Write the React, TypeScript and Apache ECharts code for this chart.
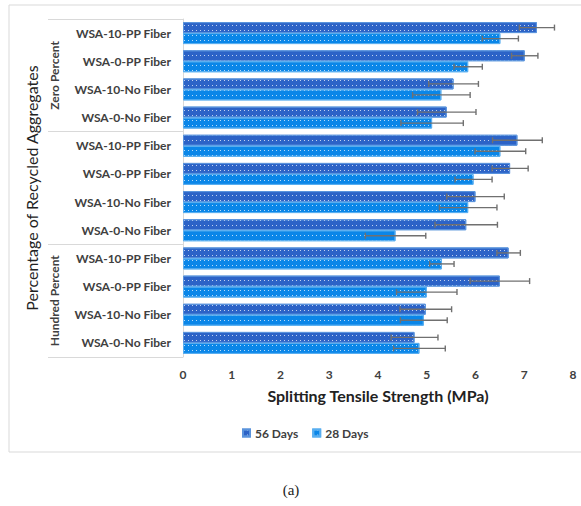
import React, { useEffect, useRef } from 'react';
import * as echarts from 'echarts';

const categories = [
  'WSA-10-PP Fiber', 'WSA-0-PP Fiber', 'WSA-10-No Fiber', 'WSA-0-No Fiber',
  'WSA-10-PP Fiber', 'WSA-0-PP Fiber', 'WSA-10-No Fiber', 'WSA-0-No Fiber',
  'WSA-10-PP Fiber', 'WSA-0-PP Fiber', 'WSA-10-No Fiber', 'WSA-0-No Fiber',
];
const groups = ['Zero Percent', 'Fifty Percent', 'Hundred Percent'];

const days56 = [7.26, 7.01, 5.55, 5.41, 6.86, 6.71, 6.0, 5.81, 6.68, 6.5, 4.98, 4.75];
const days28 = [6.51, 5.85, 5.3, 5.11, 6.51, 5.96, 5.85, 4.36, 5.31, 5.0, 4.94, 4.85];
const err56 = [0.36, 0.27, 0.51, 0.6, 0.51, 0.37, 0.59, 0.64, 0.24, 0.61, 0.53, 0.48];
const err28 = [0.37, 0.29, 0.59, 0.64, 0.52, 0.38, 0.59, 0.62, 0.25, 0.62, 0.48, 0.53];

const xTicks = { min: 0, max: 8, interval: 1 };

const FONT = 'Lato';
const BAR_H = 11;

const errorSeries = (name: string, values: number[], errs: number[], shift: number) => ({
  type: 'custom',
  name,
  z: 5,
  silent: true,
  encode: { x: 0, y: 1 },
  data: values.map((v, i) => [v, i, errs[i]]),
  renderItem: (params: any, api: any) => {
    const v = api.value(0);
    const idx = api.value(1);
    const e = api.value(2);
    const a = api.coord([v - e, idx]);
    const b = api.coord([v + e, idx]);
    const y = a[1] + shift;
    const style = { stroke: '#707070', lineWidth: 1.4 };
    return {
      type: 'group',
      children: [
        { type: 'line', shape: { x1: a[0], y1: y, x2: b[0], y2: y }, style },
        { type: 'line', shape: { x1: a[0], y1: y - 3, x2: a[0], y2: y + 3 }, style },
        { type: 'line', shape: { x1: b[0], y1: y - 3, x2: b[0], y2: y + 3 }, style },
      ],
    };
  },
});

const decal = {
  symbol: 'rect',
  symbolSize: 1,
  color: 'rgba(255,255,255,0.7)',
  dashArrayX: [1, 3],
  dashArrayY: [1, 4],
};

export default function App() {
  const ref = useRef<HTMLDivElement>(null);

  useEffect(() => {
    document.body.style.margin = '0';
    if (!ref.current) return;
    const chart = echarts.init(ref.current, null, { renderer: 'svg' });

    chart.setOption({
      animation: false,
      textStyle: { fontFamily: FONT },
      grid: { left: 183, right: 8, top: 19, bottom: 149 },
      legend: {
        data: ['56 Days', '28 Days'],
        left: 237,
        top: 422,
        icon: 'rect',
        itemWidth: 7,
        itemHeight: 7,
        itemGap: 14,
        textStyle: { fontFamily: FONT, fontWeight: 'bold', fontSize: 12, color: '#404040' },
      },
      xAxis: {
        type: 'value',
        ...xTicks,
        name: 'Splitting Tensile Strength (MPa)',
        nameLocation: 'middle',
        nameGap: 30,
        nameTextStyle: { fontFamily: FONT, fontWeight: 'bold', fontSize: 16, color: '#222' },
        axisLine: { show: false },
        axisTick: { show: false },
        splitLine: { show: false },
        axisLabel: { fontFamily: FONT, fontWeight: 'bold', fontSize: 12, color: '#404040', margin: 11 },
      },
      yAxis: [
        {
          type: 'category',
          data: categories,
          inverse: true,
          name: 'Percentage of Recycled Aggregates',
          nameLocation: 'middle',
          nameGap: 144,
          nameTextStyle: { fontFamily: FONT, fontSize: 16, color: '#222' },
          axisLine: { show: true, lineStyle: { color: '#d9d9d9' } },
          axisTick: {
            show: true,
            length: 135,
            interval: (i: number) => i % 4 === 0,
            lineStyle: { color: '#d9d9d9' },
          },
          axisLabel: {
            fontFamily: FONT,
            fontWeight: 'bold',
            fontSize: 12,
            color: '#404040',
            margin: 12,
          },
        },
        {
          type: 'category',
          data: groups,
          inverse: true,
          position: 'left',
          offset: 123,
          axisLine: { show: false },
          axisTick: { show: false },
          axisLabel: {
            rotate: 90,
            margin: 0,
            fontFamily: FONT,
            fontWeight: 'bold',
            fontSize: 12,
            color: '#404040',
          },
        },
      ],
      series: [
        {
          type: 'bar',
          name: '56 Days',
          data: days56,
          barWidth: BAR_H,
          barGap: '0%',
          itemStyle: { color: '#2c63c7', borderColor: '#5a93dc', borderWidth: 1, decal },
        },
        {
          type: 'bar',
          name: '28 Days',
          data: days28,
          barWidth: BAR_H,
          barGap: '0%',
          itemStyle: { color: '#0a86e8', borderColor: '#58aef0', borderWidth: 1, decal },
        },
        errorSeries('56 Days err', days56, err56, -BAR_H / 2),
        errorSeries('28 Days err', days28, err28, BAR_H / 2),
      ],
      graphic: [
        {
          type: 'rect',
          shape: { x: 9, y: 5, width: 620, height: 447 },
          style: { fill: 'none', stroke: '#d9d9d9', lineWidth: 1 },
          silent: true,
        },
        {
          type: 'text',
          x: 291,
          y: 490,
          style: {
            text: '(a)',
            fontFamily: 'Liberation Serif',
            fontSize: 15,
            fill: '#222',
            align: 'center',
            verticalAlign: 'middle',
          },
        },
      ],
    });

    return () => chart.dispose();
  }, []);

  return <div ref={ref} style={{ width: 581, height: 506 }} />;
}
